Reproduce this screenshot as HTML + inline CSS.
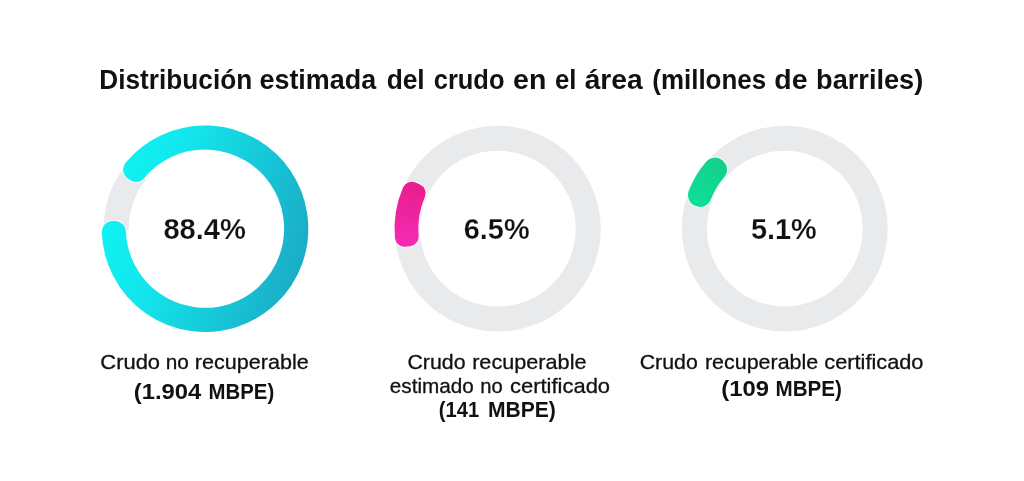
<!DOCTYPE html>
<html lang="es"><head><meta charset="utf-8"><title>Distribución estimada del crudo</title>
<style>
html,body{margin:0;padding:0;background:#fff;}
body{width:1024px;height:481px;overflow:hidden;position:relative;font-family:"Liberation Sans",sans-serif;color:#111;}
svg{position:absolute;left:0;top:0;}
text{font-family:"Liberation Sans",sans-serif;fill:#111;}
.b{font-weight:bold;}
.r{stroke:#111;stroke-width:0.3px;}
.p{stroke:#fff;stroke-width:0.25px;paint-order:fill stroke;}
</style></head><body>
<svg width="1024" height="481" viewBox="0 0 1024 481">
<defs>
<linearGradient id="gt" gradientUnits="userSpaceOnUse" x1="104" y1="200" x2="306" y2="262"><stop offset="0" stop-color="#0ef3f3"/><stop offset="0.3" stop-color="#13e6ec"/><stop offset="1" stop-color="#1aabc5"/></linearGradient>
<linearGradient id="gp" gradientUnits="userSpaceOnUse" x1="410" y1="183" x2="405" y2="245"><stop offset="0" stop-color="#e81e8c"/><stop offset="1" stop-color="#f32bb4"/></linearGradient>
<linearGradient id="gg" gradientUnits="userSpaceOnUse" x1="725" y1="160" x2="690" y2="205"><stop offset="0" stop-color="#14cf8a"/><stop offset="1" stop-color="#0be09a"/></linearGradient>
</defs>
<rect width="1024" height="481" fill="#ffffff"/>
<path d="M116.21 230.28A90.4 90.4 0 0 1 136.35 171.81" fill="none" stroke="#e9eaec" stroke-width="25.0"/>
<circle cx="497.8" cy="228.65" r="90.4" fill="none" stroke="#e9eaec" stroke-width="25.0"/>
<circle cx="784.8" cy="228.6" r="90.4" fill="none" stroke="#e9eaec" stroke-width="25.0"/>
<path d="M134.20 169.48A92.30 92.30 0 1 1 112.76 232.10L114.96 232.02A90.10 90.10 0 1 0 135.89 170.89Z" fill="#ffffff" stroke="#ffffff" stroke-opacity="0.6" stroke-width="24.2" stroke-linejoin="round"/>
<path d="M134.20 169.48A92.30 92.30 0 1 1 112.76 232.10L114.96 232.02A90.10 90.10 0 1 0 135.89 170.89Z" fill="url(#gt)" stroke="url(#gt)" stroke-width="22.0" stroke-linejoin="round"/>
<path d="M404.39 237.22A93.80 93.80 0 0 1 411.74 191.33L416.15 193.24A89.00 89.00 0 0 0 409.17 236.79Z" fill="#ffffff" stroke="#ffffff" stroke-opacity="0.6" stroke-width="21.2" stroke-linejoin="round"/>
<path d="M404.39 237.22A93.80 93.80 0 0 1 411.74 191.33L416.15 193.24A89.00 89.00 0 0 0 409.17 236.79Z" fill="url(#gp)" stroke="url(#gp)" stroke-width="19.0" stroke-linejoin="round"/>
<path d="M699.33 195.09A91.80 91.80 0 0 1 714.88 169.11L715.49 169.63A91.00 91.00 0 0 0 700.08 195.38Z" fill="#ffffff" stroke="#ffffff" stroke-opacity="0.6" stroke-width="25.2" stroke-linejoin="round"/>
<path d="M699.33 195.09A91.80 91.80 0 0 1 714.88 169.11L715.49 169.63A91.00 91.00 0 0 0 700.08 195.38Z" fill="url(#gg)" stroke="url(#gg)" stroke-width="23.0" stroke-linejoin="round"/>
<text class="b" x="99.25" y="88.7" font-size="27.5" textLength="152.98" lengthAdjust="spacingAndGlyphs">Distribución</text>
<text class="b" x="259.48" y="88.7" font-size="27.5" textLength="116.68" lengthAdjust="spacingAndGlyphs">estimada</text>
<text class="b" x="386.67" y="88.7" font-size="27.5" textLength="38.03" lengthAdjust="spacingAndGlyphs">del</text>
<text class="b" x="433.77" y="88.7" font-size="27.5" textLength="70.69" lengthAdjust="spacingAndGlyphs">crudo</text>
<text class="b" x="513.1" y="88.7" font-size="27.5" textLength="33.19" lengthAdjust="spacingAndGlyphs">en</text>
<text class="b" x="554.91" y="88.7" font-size="27.5" textLength="21.4" lengthAdjust="spacingAndGlyphs">el</text>
<text class="b" x="584.65" y="88.7" font-size="27.5" textLength="58.02" lengthAdjust="spacingAndGlyphs">área</text>
<text class="b" x="652.3" y="88.7" font-size="27.5" textLength="113.8" lengthAdjust="spacingAndGlyphs">(millones</text>
<text class="b" x="774.25" y="88.7" font-size="27.5" textLength="33.2" lengthAdjust="spacingAndGlyphs">de</text>
<text class="b" x="816.07" y="88.7" font-size="27.5" textLength="107.16" lengthAdjust="spacingAndGlyphs">barriles)</text>
<text class="b p" x="163.38" y="238.7" font-size="30" textLength="82.55" lengthAdjust="spacingAndGlyphs">88.4%</text>
<text class="b p" x="463.7" y="238.7" font-size="30" textLength="65.96" lengthAdjust="spacingAndGlyphs">6.5%</text>
<text class="b p" x="750.92" y="238.7" font-size="30" textLength="65.91" lengthAdjust="spacingAndGlyphs">5.1%</text>
<text class="r" x="100.3" y="368.7" font-size="21.0" textLength="59.75" lengthAdjust="spacingAndGlyphs">Crudo</text>
<text class="r" x="165.71" y="368.7" font-size="21.0" textLength="23.12" lengthAdjust="spacingAndGlyphs">no</text>
<text class="r" x="194.86" y="368.7" font-size="21.0" textLength="113.95" lengthAdjust="spacingAndGlyphs">recuperable</text>
<text class="b" x="133.8" y="399.0" font-size="21.4" textLength="67.58" lengthAdjust="spacingAndGlyphs">(1.904</text>
<text class="b" x="208.62" y="399.0" font-size="21.4" textLength="65.61" lengthAdjust="spacingAndGlyphs">MBPE)</text>
<text class="r" x="407.43" y="368.7" font-size="21.0" textLength="58.1" lengthAdjust="spacingAndGlyphs">Crudo</text>
<text class="r" x="472.15" y="368.7" font-size="21.0" textLength="114.35" lengthAdjust="spacingAndGlyphs">recuperable</text>
<text class="r" x="389.75" y="392.6" font-size="21.0" textLength="84.09" lengthAdjust="spacingAndGlyphs">estimado</text>
<text class="r" x="480.3" y="392.6" font-size="21.0" textLength="22.43" lengthAdjust="spacingAndGlyphs">no</text>
<text class="r" x="509.95" y="392.6" font-size="21.0" textLength="100.16" lengthAdjust="spacingAndGlyphs">certificado</text>
<text class="b" x="438.86" y="416.9" font-size="21.4" textLength="40.26" lengthAdjust="spacingAndGlyphs">(141</text>
<text class="b" x="488.04" y="416.9" font-size="21.4" textLength="67.83" lengthAdjust="spacingAndGlyphs">MBPE)</text>
<text class="r" x="639.66" y="368.8" font-size="21.0" textLength="58.17" lengthAdjust="spacingAndGlyphs">Crudo</text>
<text class="r" x="704.91" y="368.8" font-size="21.0" textLength="113.3" lengthAdjust="spacingAndGlyphs">recuperable</text>
<text class="r" x="824.25" y="368.8" font-size="21.0" textLength="99.24" lengthAdjust="spacingAndGlyphs">certificado</text>
<text class="b" x="721.22" y="396.4" font-size="21.4" textLength="47.73" lengthAdjust="spacingAndGlyphs">(109</text>
<text class="b" x="775.54" y="396.4" font-size="21.4" textLength="66.43" lengthAdjust="spacingAndGlyphs">MBPE)</text>
</svg>
</body></html>
